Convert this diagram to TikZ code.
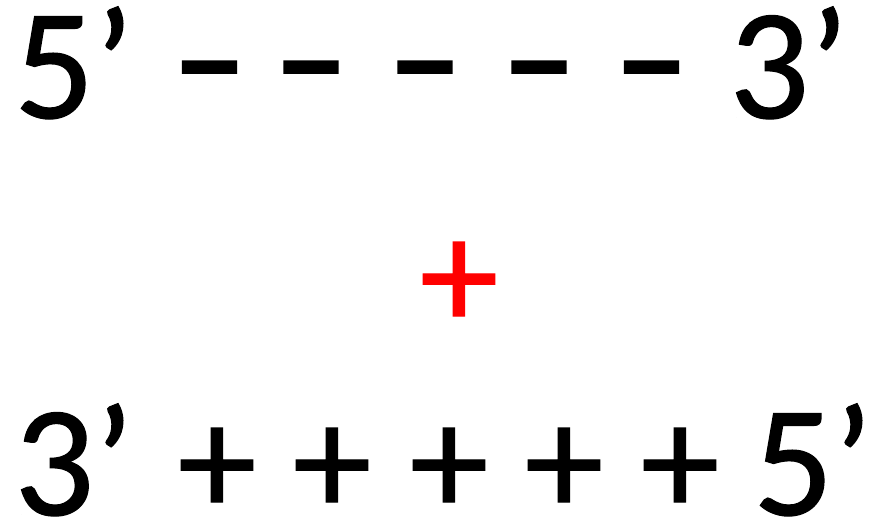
\documentclass[tikz,border=0pt]{standalone}
\usepackage{fontspec}
\setmainfont{Carlito}
\newfontfamily\heavy{Carlito}[FakeBold=0.8]
\usepackage{graphicx}
\usepackage{tikz}
\usetikzlibrary{positioning}
\usepackage{xcolor}
\begin{document}
\begin{tikzpicture}[x=1pt,y=1pt,
big/.style={inner sep=0pt,font=\heavy\fontsize{158}{180}\selectfont},
strand/.style={big,anchor=base west},
sign/.style={big,anchor=base}]
\useasboundingbox (0,0) rectangle (886,519);
% upper strand
\node[strand] (u5) at (14,401) {5’};
\node[sign] (d1) at (209.5,405) {\scalebox{1.45}[1.05]{-}};
\node[sign] (d2) at (311,405) {\scalebox{1.45}[1.05]{-}};
\node[sign] (d3) at (425,405) {\scalebox{1.45}[1.05]{-}};
\node[sign] (d4) at (539,405) {\scalebox{1.45}[1.05]{-}};
\node[sign] (d5) at (651.5,405) {\scalebox{1.45}[1.05]{-}};
\node[strand] (u3) at (729,401) {3’};
% lower strand
\node[strand] (l3) at (14,4) {3’};
\node[sign] (p1) at (217,4) {+};
\node[sign] (p2) at (332,4) {+};
\node[sign] (p3) at (449,4) {+};
\node[sign] (p4) at (564,4) {+};
\node[sign] (p5) at (680,4) {+};
\node[strand] (l5) at (753,4) {5’};
% joining sign
\node[sign,text=red] (mid) at (459,190) {+};
\end{tikzpicture}
\end{document}
